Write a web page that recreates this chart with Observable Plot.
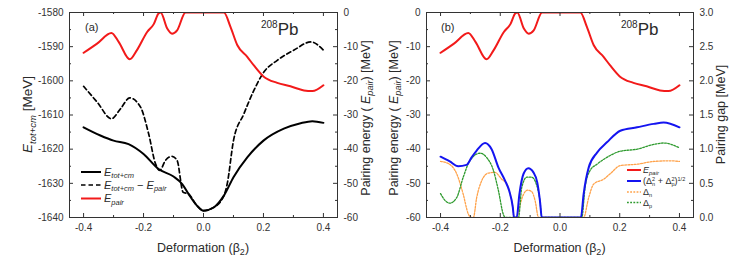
<!DOCTYPE html>
<html><head><meta charset="utf-8">
<script src="https://cdn.jsdelivr.net/npm/d3@7"></script>
<script src="https://cdn.jsdelivr.net/npm/@observablehq/plot@0.6"></script>
<style>
body{margin:0;background:#fff;font-family:"Liberation Sans",Arial,sans-serif}
#wrap{display:flex;width:747px;height:264px;overflow:hidden}
svg{display:block}
</style></head><body><div id="wrap"></div>
<script>
// ---------- DATA ----------
// Panel (a): total energy E_tot+cm [MeV]
const betaTot = [-0.4,-0.344,-0.30,-0.25,-0.2,-0.15,-0.10,-0.071,-0.05,-0.021,0,0.035,0.068,0.1,0.146,0.2,0.268,0.324,0.363,0.4];
const eTot    = [-1613.6,-1616.0,-1617.5,-1618.5,-1621.4,-1625.8,-1628,-1630.2,-1633.1,-1636.6,-1638,-1637,-1633.6,-1628.2,-1622.4,-1617.5,-1614,-1612.4,-1611.8,-1612.3];
// E_tot+cm - E_pair [MeV]
const betaDiff = [-0.4,-0.355,-0.307,-0.277,-0.246,-0.21,-0.183,-0.16,-0.146,-0.127,-0.105,-0.088,-0.068,-0.05,-0.021,0,0.035,0.068,0.079,0.1,0.135,0.168,0.2,0.246,0.302,0.358,0.4];
const eDiff    = [-1601.6,-1606.2,-1611.1,-1608.2,-1605,-1607.7,-1615.5,-1624.3,-1626.2,-1623.3,-1622.1,-1623.3,-1632.6,-1633.1,-1636.6,-1638,-1637,-1633.6,-1630.2,-1617.5,-1609.6,-1602.8,-1597.6,-1594,-1591,-1588.6,-1591];
// Pairing energy E_pair [MeV] (both panels)
const betaPair = [-0.4,-0.355,-0.307,-0.283,-0.246,-0.222,-0.188,-0.166,-0.15,-0.143,-0.121,-0.105,-0.088,-0.06,0.068,0.09,0.113,0.146,0.168,0.2,0.246,0.29,0.335,0.363,0.4];
const ePair    = [-11.8,-9.1,-6,-8.6,-13.7,-11,-5.7,-3.4,-0.3,0,-4.7,-6.2,-5.2,0,0,-4.2,-9.6,-13,-15.5,-18.7,-20.6,-21.6,-22.8,-23,-21.3];
// Panel (b): pairing gaps [MeV]
const betaGap = [-0.4,-0.369,-0.341,-0.313,-0.296,-0.279,-0.251,-0.229,-0.206,-0.184,-0.17,-0.158,-0.154,-0.145,-0.136,-0.122,-0.106,-0.089,-0.076,-0.067,-0.061,0.07,0.079,0.096,0.124,0.157,0.202,0.258,0.314,0.347,0.4];
const gapTot  = [0.89,0.82,0.75,0.77,0.88,0.98,1.09,1.00,0.73,0.54,0.39,0.15,0,0,0.34,0.64,0.72,0.66,0.51,0.24,0,0,0.34,0.73,0.95,1.10,1.27,1.32,1.37,1.39,1.32];
const betaGapN = [-0.4,-0.374,-0.346,-0.324,-0.307,-0.298,-0.29,-0.279,-0.262,-0.24,-0.218,-0.195,-0.178,-0.167,-0.158,-0.154,-0.145,-0.136,-0.122,-0.109,-0.095,-0.083,-0.072,0.079,0.096,0.113,0.146,0.168,0.202,0.258,0.314,0.37,0.4];
const gapN     = [0.82,0.79,0.64,0.34,0.05,0,0,0.29,0.54,0.65,0.66,0.56,0.49,0.34,0.15,0,0,0.15,0.34,0.40,0.38,0.24,0,0,0.29,0.49,0.56,0.64,0.76,0.78,0.82,0.83,0.82];
const betaGapP = [-0.4,-0.385,-0.369,-0.346,-0.324,-0.302,-0.268,-0.246,-0.223,-0.206,-0.19,-0.184,-0.139,-0.128,-0.111,-0.095,-0.078,-0.067,-0.061,0.073,0.084,0.101,0.124,0.157,0.202,0.258,0.314,0.347,0.4];
const gapP     = [0.35,0.25,0.21,0.29,0.59,0.83,0.94,0.88,0.69,0.39,0.05,0,0,0.44,0.59,0.59,0.47,0.24,0,0,0.44,0.69,0.78,0.88,0.97,1.00,1.07,1.09,1.02];
// Tick values
const xMajor = [-0.4,-0.2,0,0.2,0.4];
const xMinor = [-0.3,-0.1,0.1,0.3];
const yTotMajor = [-1580,-1590,-1600,-1610,-1620,-1630,-1640];
const yPairMajor = [0,-10,-20,-30,-40,-50,-60];
const gapMajor = [0,0.5,1,1.5,2,2.5,3];

// ---------- LAYOUT ----------
const H = 264, mt = 12, mb = 47;
const ih = H - mt - mb;
const FONT = "Liberation Sans, Arial, sans-serif";
const RED = "#f21a1a", BLUE = "#1414f0", ORANGE = "#ffa24a", GREEN = "#2e9a2e", AX = "#333", TXT = "#2a2a2a";

function mid(a){const r=[];for(let i=0;i<a.length-1;i++)r.push((a[i]+a[i+1])/2);return r;}

function ticksMarks(iw, yLeftMajor, yRightMajor){
  const yLeftMinor = mid(yLeftMajor), yRightMinor = mid(yRightMajor);
  return [
    Plot.tickX(xMajor, {x: d=>d, insetTop: ih-4, stroke: AX}),
    Plot.tickX(xMinor, {x: d=>d, insetTop: ih-2, stroke: AX}),
    Plot.tickX(xMajor, {x: d=>d, insetBottom: ih-4, stroke: AX}),
    Plot.tickX(xMinor, {x: d=>d, insetBottom: ih-2, stroke: AX}),
    Plot.tickY(yLeftMajor, {y: d=>d, insetRight: iw-4, stroke: AX}),
    Plot.tickY(yLeftMinor, {y: d=>d, insetRight: iw-2, stroke: AX}),
    Plot.tickY(yRightMajor, {y: d=>d, insetLeft: iw-4, stroke: AX}),
    Plot.tickY(yRightMinor, {y: d=>d, insetLeft: iw-2, stroke: AX}),
    Plot.frame({stroke: AX, strokeWidth: 1})
  ];
}

function rich(svg, {x, y, rotate=0, anchor="start", size=13, parts, fill=TXT}){
  const t = d3.select(svg).append("text")
    .attr("transform", `translate(${x},${y}) rotate(${rotate})`)
    .attr("text-anchor", anchor).attr("font-size", size)
    .attr("font-family", FONT).attr("fill", fill);
  for (const p of parts){
    const ts = t.append("tspan").text(p.t);
    if (p.i) ts.attr("font-style","italic");
    if (p.s) ts.attr("font-size", p.s);
    if (p.dy) ts.attr("dy", p.dy);
    if (p.dx) ts.attr("dx", p.dx);
  }
  return t;
}
function legLine(svg, x1, x2, y, stroke, w, dash){
  const l = d3.select(svg).append("line").attr("x1",x1).attr("x2",x2).attr("y1",y).attr("y2",y)
    .attr("stroke",stroke).attr("stroke-width",w);
  if (dash) l.attr("stroke-dasharray",dash);
}

const wrap = document.getElementById("wrap");
const xDomain = [-0.447, 0.447];
const tickText = {fontSize: 10, fill: "#333"};

// ---------- PANEL A ----------
{
  const W = 380, ml = 69, mr = 43, iw = W - ml - mr;
  const off = -1580; // E_pair 0 aligns with -1580
  const svg = Plot.plot({
    width: W, height: H, marginLeft: ml, marginRight: mr, marginTop: mt, marginBottom: mb,
    style: {fontFamily: FONT, fontSize: "10px", color: "#333", background: "white"},
    x: {domain: xDomain, axis: null},
    y: {domain: [-1640, -1580], axis: null},
    marks: [
      Plot.line(eTot, {x: betaTot, y: eTot, stroke: "#000", strokeWidth: 2, curve: "monotone-x", clip: true}),
      Plot.line(eDiff, {x: betaDiff, y: eDiff, stroke: "#000", strokeWidth: 1.7, strokeDasharray: "4.5,3", curve: "monotone-x", clip: true}),
      Plot.line(ePair, {x: betaPair, y: ePair.map(v => v + off), stroke: RED, strokeWidth: 2, curve: "monotone-x", clip: true}),
      ...ticksMarks(iw, yTotMajor, yPairMajor.map(v => v + off)),
      Plot.axisX(xMajor, {tickSize: 0, tickPadding: 6, tickFormat: d => d.toFixed(1), label: null, ...tickText}),
      Plot.axisY(yTotMajor, {anchor: "left", tickSize: 0, tickPadding: 6, tickFormat: d => String(d), label: null, ...tickText}),
      Plot.axisY(yPairMajor.map(v => v + off), {anchor: "right", tickSize: 0, tickPadding: 6, tickFormat: d => String(d - off), label: null, ...tickText})
    ]
  });
  wrap.appendChild(svg);
  rich(svg, {x: 31.5, y: 114.5, rotate: -90, anchor: "middle", size: 13.5, parts: [{t:"E", i:true},{t:"tot+cm", i:true, s:9.5, dy:4},{t:" [MeV]", dy:-4}]});
  rich(svg, {x: 369.5, y: 118, rotate: -90, anchor: "middle", size: 12.5, parts: [{t:"Pairing energy ( "},{t:"E", i:true},{t:"pair", i:true, s:9, dy:3.5},{t:") [MeV]", dy:-3.5}]});
  rich(svg, {x: ml + iw/2, y: 251.5, anchor: "middle", size: 12.5, parts: [{t:"Deformation (β"},{t:"2", s:9, dy:3.5},{t:")", dy:-3.5}]});
  rich(svg, {x: 85, y: 31, size: 11, parts: [{t:"(a)"}]});
  rich(svg, {x: 261, y: 35, size: 17, parts: [{t:"208", s:10, dy:-7},{t:"Pb", dy:7}]});
  // legend
  legLine(svg, 81, 101, 172, "#000", 2);
  legLine(svg, 81, 101, 185, "#000", 1.7, "4.5,3");
  legLine(svg, 81, 101, 198.5, RED, 2);
  rich(svg, {x: 104, y: 175.5, size: 11, parts: [{t:"E", i:true},{t:"tot+cm", i:true, s:7.5, dy:2.5}]});
  rich(svg, {x: 104, y: 188.5, size: 11, parts: [{t:"E", i:true},{t:"tot+cm", i:true, s:7.5, dy:2.5},{t:" − ", dy:-2.5},{t:"E", i:true},{t:"pair", i:true, s:7.5, dy:2.5}]});
  rich(svg, {x: 104, y: 202, size: 11, parts: [{t:"E", i:true},{t:"pair", i:true, s:7.5, dy:2.5}]});
}

// ---------- PANEL B ----------
{
  const W = 367, ml = 46, mr = 54, iw = W - ml - mr, X0 = 380;
  const gmap = g => -60 + 20 * g;
  const svg = Plot.plot({
    width: W, height: H, marginLeft: ml, marginRight: mr, marginTop: mt, marginBottom: mb,
    style: {fontFamily: FONT, fontSize: "10px", color: "#333", background: "white"},
    x: {domain: xDomain, axis: null},
    y: {domain: [-60, 0], axis: null},
    marks: [
      Plot.line(gapN, {x: betaGapN, y: gapN.map(gmap), stroke: ORANGE, strokeWidth: 1.3, strokeDasharray: "1.8,1.4", curve: "monotone-x", clip: true}),
      Plot.line(gapP, {x: betaGapP, y: gapP.map(gmap), stroke: GREEN, strokeWidth: 1.3, strokeDasharray: "1.8,1.4", curve: "monotone-x", clip: true}),
      Plot.line(gapTot, {x: betaGap, y: gapTot.map(gmap), stroke: BLUE, strokeWidth: 2, curve: "monotone-x", clip: true}),
      Plot.line(ePair, {x: betaPair, y: ePair, stroke: RED, strokeWidth: 2, curve: "monotone-x", clip: true}),
      ...ticksMarks(iw, yPairMajor, gapMajor.map(gmap)),
      Plot.axisX(xMajor, {tickSize: 0, tickPadding: 6, tickFormat: d => d.toFixed(1), label: null, ...tickText}),
      Plot.axisY(yPairMajor, {anchor: "left", tickSize: 0, tickPadding: 6, tickFormat: d => String(d), label: null, ...tickText}),
      Plot.axisY(gapMajor.map(gmap), {anchor: "right", tickSize: 0, tickPadding: 6, tickFormat: d => ((d + 60) / 20).toFixed(1), label: null, ...tickText})
    ]
  });
  wrap.appendChild(svg);
  rich(svg, {x: 397.5 - X0, y: 118, rotate: -90, anchor: "middle", size: 12.5, parts: [{t:"Pairing energy ( "},{t:"E", i:true},{t:"pair", i:true, s:9, dy:3.5},{t:") [MeV]", dy:-3.5}]});
  rich(svg, {x: 724.5 - X0, y: 114.5, rotate: -90, anchor: "middle", size: 12.5, parts: [{t:"Pairing gap [MeV]"}]});
  rich(svg, {x: ml + iw/2, y: 251.5, anchor: "middle", size: 12.5, parts: [{t:"Deformation (β"},{t:"2", s:9, dy:3.5},{t:")", dy:-3.5}]});
  rich(svg, {x: 441 - X0, y: 31, size: 11, parts: [{t:"(b)"}]});
  rich(svg, {x: 621 - X0, y: 35, size: 17, parts: [{t:"208", s:10, dy:-7},{t:"Pb", dy:7}]});
  // legend
  const lx1 = 627 - X0, lx2 = 641 - X0, tx = 643 - X0;
  legLine(svg, lx1, lx2, 170, RED, 2);
  legLine(svg, lx1, lx2, 181, BLUE, 2);
  legLine(svg, lx1, lx2, 192, ORANGE, 1.3, "1.8,1.4");
  legLine(svg, lx1, lx2, 202.5, GREEN, 1.3, "1.8,1.4");
  rich(svg, {x: tx, y: 173, size: 9, parts: [{t:"E", i:true},{t:"pair", i:true, s:6, dy:2}]});
  rich(svg, {x: tx, y: 184, size: 9, parts: [{t:"(Δ"},{t:"2", s:5.5, dy:-3.5},{t:"n", s:5.5, dx:-3, dy:5.5},{t:" + Δ", dy:-2},{t:"2", s:5.5, dy:-3.5},{t:"p", s:5.5, dx:-3, dy:5.5},{t:")", dy:-2},{t:"1/2", s:5.5, dy:-3.5}]});
  rich(svg, {x: tx, y: 195, size: 9, parts: [{t:"Δ"},{t:"n", s:5.5, dy:2}]});
  rich(svg, {x: tx, y: 205.5, size: 9, parts: [{t:"Δ"},{t:"p", s:5.5, dy:2}]});
}
</script></body></html>
